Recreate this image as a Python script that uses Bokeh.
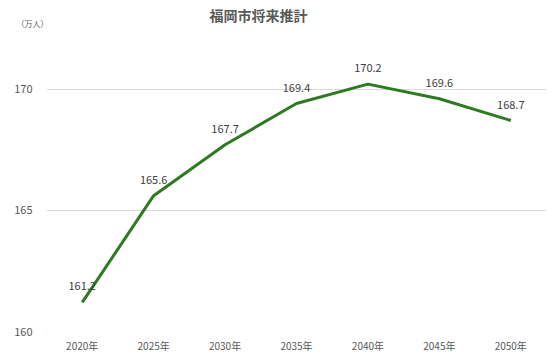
from bokeh.plotting import figure
from bokeh.models import ColumnDataSource, Range1d, FactorRange, Title
from bokeh.core.properties import value
from bokeh.embed import file_html
from bokeh.resources import INLINE

years = ["2020年", "2025年", "2030年", "2035年", "2040年", "2045年", "2050年"]
population = [161.2, 165.6, 167.7, 169.4, 170.2, 169.6, 168.7]
y_ticks = [160, 165, 170]
title_text = "福岡市将来推計"
unit_text = "（万人）"

FONT = "Noto Sans CJK JP"

p = figure(frame_width=500, frame_height=291, output_backend="svg", toolbar_location=None,
           x_range=FactorRange(*years), y_range=Range1d(160, 172),
           min_border_left=46, min_border_right=0, min_border_top=40, min_border_bottom=22)
p.outline_line_color = None
p.background_fill_color = "white"
p.border_fill_color = "white"

p.title.text = title_text
p.title.align = "left"
p.title.offset = 163
p.title.text_font = FONT
p.title.text_font_size = "14px"
p.title.text_font_style = "bold"
p.title.text_color = "#595959"
p.title.standoff = -43

unit = Title(text=unit_text, align="left", offset=-30, text_font=FONT, text_font_size="8px",
             text_font_style="normal", text_color="#595959", standoff=24)
p.add_layout(unit, "above")

src = ColumnDataSource(dict(x=years, y=population, t=[f"{v:.1f}" for v in population]))
p.line("x", "y", source=src, line_color="#2E7A22", line_width=3)
p.text("x", "y", text="t", source=src, text_align="center", text_baseline="middle",
       y_offset=-16, text_font=value(FONT), text_font_size="11px", text_color="#404040")

p.yaxis.ticker = y_ticks
p.yaxis.axis_line_color = None
p.yaxis.major_tick_line_color = None
p.yaxis.minor_tick_line_color = None
p.yaxis.major_label_standoff = 8
p.yaxis.major_label_text_font = FONT
p.yaxis.major_label_text_font_size = "11px"
p.yaxis.major_label_text_color = "#595959"

p.xaxis.axis_line_color = None
p.xaxis.major_tick_line_color = None
p.xaxis.major_label_standoff = 0
p.xaxis.major_label_text_font = FONT
p.xaxis.major_label_text_font_size = "10px"
p.xaxis.major_label_text_color = "#595959"

p.xgrid.grid_line_color = None
p.ygrid.grid_line_color = "#d9d9d9"
p.ygrid.grid_line_width = 1

open("out.html", "w").write(file_html(p, INLINE))
